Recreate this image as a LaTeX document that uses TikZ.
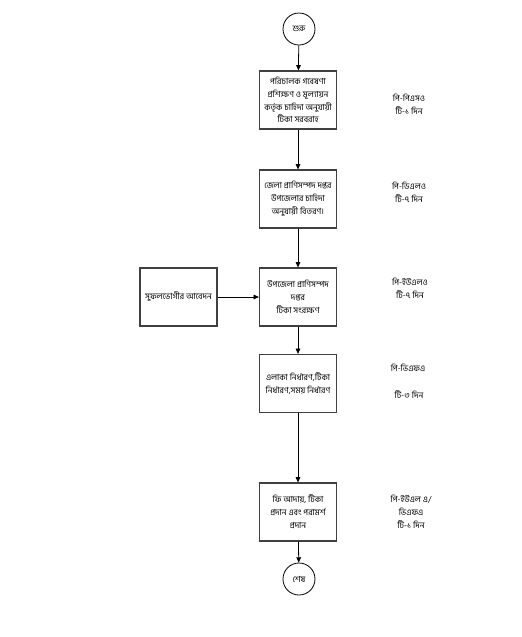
\documentclass[tikz,border=0pt]{standalone}
\usepackage{fontspec}
\newfontfamily\bn[Script=Bengali]{Hind Siliguri}
\usetikzlibrary{arrows.meta}
\begin{document}
\begin{tikzpicture}[x=0.75pt,y=-0.75pt,
  every node/.style={font=\bn\fontsize{6.3}{9.6}\selectfont, align=center},
  box/.style={draw=black!75, line width=0.9pt, minimum width=57.75pt, minimum height=43.5pt, inner sep=1pt},
  term/.style={draw=black, line width=0.6pt, circle, minimum size=24pt, inner sep=0pt},
  lbl/.style={inner sep=0pt},
  arr/.style={-{Triangle[length=4pt,width=3.5pt]}, line width=0.6pt}]
\useasboundingbox (0,0) rectangle (522,637);
\node[term] (start) at (299,29) {শুরু};
\node[box] (b1) at (298,100) {পরিচালক গবেষণা\\প্রশিক্ষণ ও মূল্যায়ন\\কর্তৃক চাহিদা অনুযায়ী\\টিকা সরবরাহ};
\node[box] (b2) at (298,199) {জেলা প্রাণিসম্পদ দপ্তর\\উপজেলার চাহিদা\\অনুযায়ী বিতরণ।};
\node[box] (b3) at (298,297) {উপজেলা প্রাণিসম্পদ\\দপ্তর\\টিকা সংরক্ষণ};
\node[box] (b0) at (178.5,297) {সুফলভোগীর আবেদন};
\node[box] (b4) at (298,383.5) {এলাকা নির্ধারণ,টিকা\\নির্ধারণ,সময় নির্ধারণ};
\node[box] (b5) at (298,512) {ফি আদায়, টিকা\\প্রদান এবং পরামর্শ\\প্রদান};
\node[term] (end) at (299,579) {শেষ};
\node[lbl] (l1) at (409,104) {পি-পিএসও\\টি-১ দিন};
\node[lbl] (l2) at (409,192) {পি-ডিএলও\\টি-৭ দিন};
\node[lbl] (l3) at (410,288) {পি-ইউএলও\\টি-৭ দিন};
\node[lbl] (l4a) at (408,368) {পি-ভিএফএ};
\node[lbl] (l4b) at (409,395) {টি-৩ দিন};
\node[lbl] (l5) at (411,512) {পি-ইউএল এ/\\ভিএফএ\\টি-১ দিন};
\draw[arr] (start) -- (b1);
\draw[arr] (b1) -- (b2);
\draw[arr] (b2) -- (b3);
\draw[arr] (b0) -- (b3);
\draw[arr] (b3) -- (b4);
\draw[arr] (b4) -- (b5);
\draw[arr] (b5) -- (end);
\end{tikzpicture}
\end{document}
